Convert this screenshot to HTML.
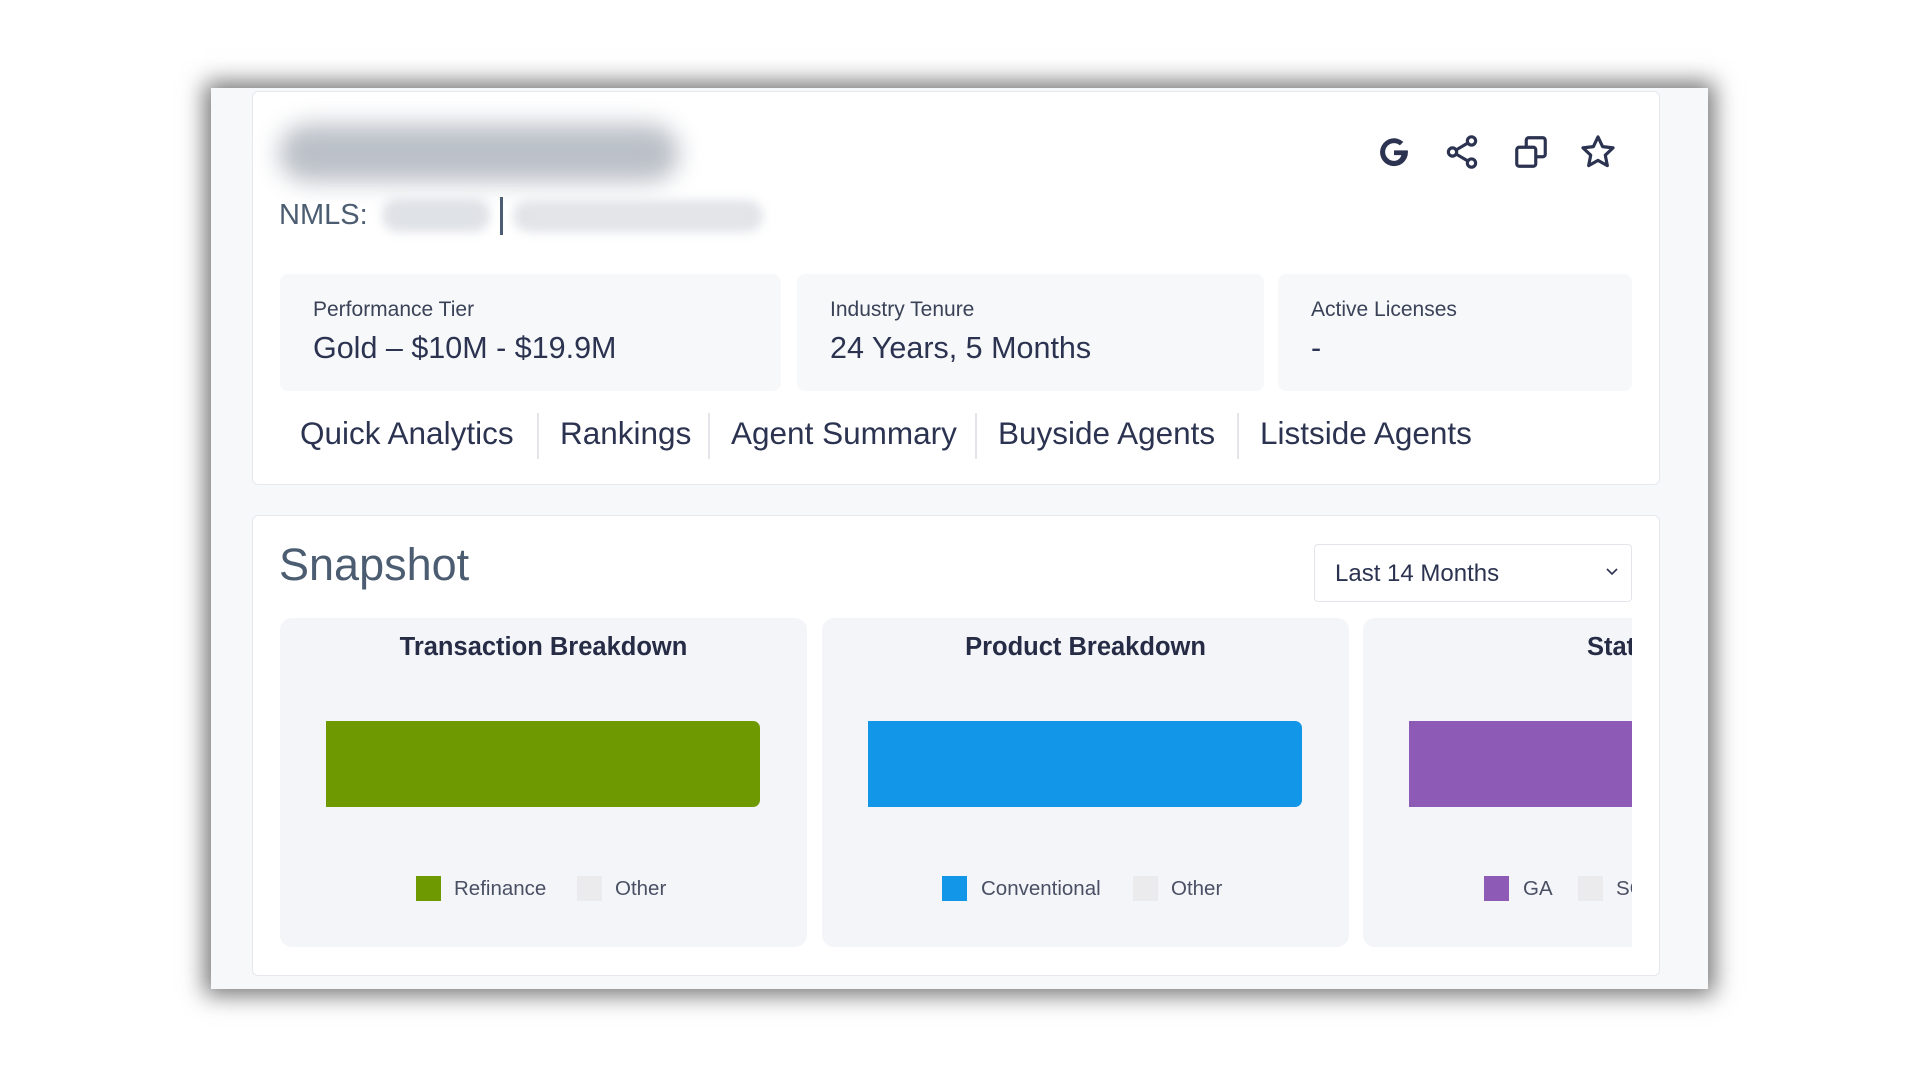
<!DOCTYPE html>
<html><head><meta charset="utf-8"><style>
*{box-sizing:border-box;margin:0;padding:0}
body{width:1920px;height:1080px;background:#fff;position:relative;overflow:hidden;font-family:"Liberation Sans",sans-serif;color:#2b3350}
.abs{position:absolute}
#frame{left:211px;top:88px;width:1497px;height:901px;background:#f7f8fa;box-shadow:0 0 22px 6px rgba(0,0,0,.55)}
.card{background:#fff;border:1.5px solid #e6e8ee;border-radius:6px}
.stat{background:#f7f8fa;border-radius:8px;top:274px;height:117px}
.stat .l{position:absolute;left:33px;top:24px;font-size:21px;color:#3a4258}
.stat .v{position:absolute;left:33px;top:57px;font-size:30.5px;color:#2b3350}
.tab{top:415px;font-size:31.5px;color:#2b3350;white-space:nowrap}
.sep{top:413px;width:2px;height:46px;background:#e3e5ea}
.icon{top:133px;width:38px;height:38px}
</style></head><body>
<div id="frame" class="abs"></div>
<div class="abs card" style="left:252px;top:91px;width:1408px;height:394px"></div>
<div class="abs" style="left:279px;top:124px;width:400px;height:58px;background:#8e97a3;border-radius:30px;filter:blur(12px);opacity:.6"></div>
<div class="abs" style="left:279px;top:199px;font-size:29px;color:#4c5d72">NMLS:</div>
<div class="abs" style="left:382px;top:198px;width:108px;height:34px;background:#dfe2e7;border-radius:16px;filter:blur(5px)"></div>
<div class="abs" style="left:500px;top:197px;width:3px;height:38px;background:#4c5d72"></div>
<div class="abs" style="left:513px;top:200px;width:250px;height:32px;background:#e2e4e8;border-radius:16px;filter:blur(5px)"></div>

<svg class="abs icon" style="left:1375px" viewBox="0 0 24 24"><path d="M20 11H12v3h4.6c-.5 2.2-2.4 3.6-4.6 3.6a5.6 5.6 0 1 1 3.7-9.8l2.2-2.2A8.8 8.8 0 1 0 20.8 12c0-.4 0-.7-.1-1z" fill="#2b3350"/></svg>
<svg class="abs icon" style="left:1443px" viewBox="0 0 24 24" fill="none" stroke="#2b3350" stroke-width="2"><circle cx="18" cy="5" r="2.6"/><circle cx="6" cy="12" r="2.6"/><circle cx="18" cy="19" r="2.6"/><path d="M8.3 10.7l7.4-4.4M8.3 13.3l7.4 4.4"/></svg>
<svg class="abs icon" style="left:1512px" viewBox="0 0 24 24" fill="none" stroke="#2b3350" stroke-width="2"><rect x="3" y="9" width="12" height="12" rx="1.5"/><path d="M9 9V4.5C9 3.7 9.7 3 10.5 3h9c.8 0 1.5.7 1.5 1.5v9c0 .8-.7 1.5-1.5 1.5H15"/></svg>
<svg class="abs icon" style="left:1579px" viewBox="0 0 24 24" fill="none" stroke="#2b3350" stroke-width="2" stroke-linejoin="round"><path d="M12 2.5l2.9 6.1 6.6.8-4.9 4.6 1.3 6.6L12 17.3l-5.9 3.3 1.3-6.6-4.9-4.6 6.6-.8z"/></svg>

<div class="abs stat" style="left:280px;width:501px"><div class="l">Performance Tier</div><div class="v">Gold – $10M - $19.9M</div></div>
<div class="abs stat" style="left:797px;width:467px"><div class="l">Industry Tenure</div><div class="v">24 Years, 5 Months</div></div>
<div class="abs stat" style="left:1278px;width:354px"><div class="l">Active Licenses</div><div class="v">-</div></div>

<div class="abs tab" style="left:300px">Quick Analytics</div>
<div class="abs sep" style="left:537px"></div>
<div class="abs tab" style="left:560px">Rankings</div>
<div class="abs sep" style="left:708px"></div>
<div class="abs tab" style="left:731px">Agent Summary</div>
<div class="abs sep" style="left:975px"></div>
<div class="abs tab" style="left:998px">Buyside Agents</div>
<div class="abs sep" style="left:1237px"></div>
<div class="abs tab" style="left:1260px">Listside Agents</div>

<div class="abs card" style="left:252px;top:515px;width:1408px;height:461px"></div>
<div class="abs" style="left:279px;top:539px;font-size:45px;color:#4c5d72">Snapshot</div>
<div class="abs" style="left:1314px;top:544px;width:318px;height:58px;border:1.5px solid #e3e5ea;border-radius:4px;background:#fff">
<div class="abs" style="left:20px;top:15px;font-size:24px;color:#2b3350">Last 14 Months</div>
<svg class="abs" style="left:290px;top:22px" width="14" height="10" viewBox="0 0 14 10"><path d="M2 2l5 5 5-5" fill="none" stroke="#2b3350" stroke-width="1.6"/></svg>
</div>

<div class="abs" style="left:280px;top:618px;width:1352px;height:340px;overflow:hidden" id="charts"></div>

<script>
const chartTitles = ["Transaction Breakdown", "Product Breakdown", "Status Breakdown"];
const primaryLabels = ["Refinance", "Conventional", "GA"];
const secondaryLabels = ["Other", "Other", "SC"];
const primaryValues = [100, 100, 100];
const secondaryValues = [0, 0, 0];
const colors = ["#6f9900", "#1196e8", "#8d5bb6"];
const panelLeft = [0, 542, 1083];
const titleLeft = [null, null, 224];
const legendLeft = [[136, 174, 297, 335], [120, 159, 311, 349], [121, 160, 215, 253]];
const root = document.getElementById('charts');
const barW = 434;
function xScale(v, total){ return v / total * barW; }
function mk(tag, css, parent){ const e=document.createElement(tag); e.style.cssText=css; parent.appendChild(e); return e; }
chartTitles.forEach((t,i)=>{
  const p = mk('div','position:absolute;left:'+panelLeft[i]+'px;top:0;width:527px;height:329px;background:#f4f5f9;border-radius:12px',root);
  
  
  const tcss = titleLeft[i]===null ? 'left:0;width:527px;text-align:center;' : 'left:'+titleLeft[i]+'px;';
  const tt = mk('div','position:absolute;'+tcss+'top:15px;font-size:25.5px;font-weight:bold;color:#262c45;white-space:nowrap',p);
  tt.textContent = t;
  
  
  const total = primaryValues[i] + secondaryValues[i];
  const w1 = xScale(primaryValues[i], total), w2 = xScale(secondaryValues[i], total);
  const b1 = mk('div','position:absolute;left:46px;top:103px;height:86px;width:'+w1+'px;background:'+colors[i]+';border-radius:0 7px 7px 0',p);
  
  
  const b2 = mk('div','position:absolute;top:103px;height:86px;left:'+(46+w1)+'px;width:'+w2+'px;background:#ebebee',p);
  
  
  const L = legendLeft[i];
  const s1 = mk('div','position:absolute;top:258px;left:'+L[0]+'px;width:25px;height:25px;background:'+colors[i],p);
  
  
  const t1 = mk('div','position:absolute;top:258px;left:'+L[1]+'px;font-size:20.5px;line-height:25px;color:#4a5064',p);
  t1.textContent = primaryLabels[i];
  
  
  const s2 = mk('div','position:absolute;top:258px;left:'+L[2]+'px;width:25px;height:25px;background:#ebebee',p);
  
  
  const t2 = mk('div','position:absolute;top:258px;left:'+L[3]+'px;font-size:20.5px;line-height:25px;color:#4a5064',p);
  t2.textContent = secondaryLabels[i];
  
  
});
</script>
</body></html>
